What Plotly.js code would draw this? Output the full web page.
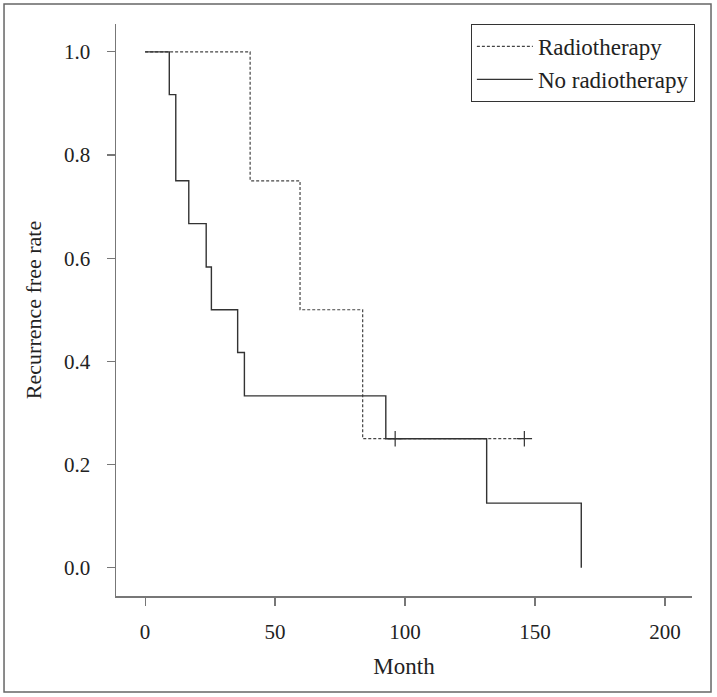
<!DOCTYPE html>
<html>
<head>
<meta charset="utf-8">
<script src="https://cdn.plot.ly/plotly-3.0.1.min.js"></script>
<style>
  html, body { margin: 0; padding: 0; background: #fff; }
  #chart { width: 717px; height: 697px; }
</style>
</head>
<body>
<div id="chart"></div>
<script>
// Kaplan-Meier step data
const rtTime = [0, 40.4, 59.6, 83.7, 145.9];
const rtSurv = [1.0, 0.75, 0.5, 0.25, 0.25];
const rtCensorTime = [145.9];
const rtCensorSurv = [0.25];

const noRtTime = [0, 9.3, 11.8, 16.8, 23.5, 25.5, 35.6, 38.2, 92.6, 131.4, 167.8];
const noRtSurv = [1.0, 0.917, 0.75, 0.667, 0.583, 0.5, 0.417, 0.333, 0.25, 0.125, 0.0];
const noRtCensorTime = [96.2];
const noRtCensorSurv = [0.25];

const seriesNames = ["Radiotherapy", "No radiotherapy"];
const xTicks = [0, 50, 100, 150, 200];
const yTicks = [0.0, 0.2, 0.4, 0.6, 0.8, 1.0];
const yTickText = ["0.0", "0.2", "0.4", "0.6", "0.8", "1.0"];

const FONT = "Liberation Serif";

const traces = [
  {
    x: rtTime, y: rtSurv, name: seriesNames[0], mode: "lines",
    line: { shape: "hv", color: "#444", width: 1.2, dash: "3px,2px" }
  },
  {
    x: noRtTime, y: noRtSurv, name: seriesNames[1], mode: "lines",
    line: { shape: "hv", color: "#333", width: 1.4 }
  },
  {
    x: rtCensorTime, y: rtCensorSurv, mode: "markers", showlegend: false,
    marker: { symbol: "cross-thin", size: 11, line: { color: "#333", width: 1.2 } }
  },
  {
    x: noRtCensorTime, y: noRtCensorSurv, mode: "markers", showlegend: false,
    marker: { symbol: "cross-thin", size: 11, line: { color: "#333", width: 1.2 } }
  }
];

const layout = {
  width: 717, height: 697,
  margin: { l: 116, r: 25, t: 24, b: 101 },
  paper_bgcolor: "#fff", plot_bgcolor: "#fff",
  font: { family: FONT, size: 21, color: "#222" },
  showlegend: true,
  xaxis: {
    range: [-11.2, 210.4],
    tickvals: xTicks,
    ticks: "outside", ticklen: 8, tickwidth: 1.2, tickcolor: "#777",
    showline: true, linecolor: "#777", linewidth: 1.5,
    showgrid: false, zeroline: false,
    tickfont: { family: FONT, size: 21, color: "#222" },
    ticklabelstandoff: 8,
    title: { text: "Month", font: { family: FONT, size: 23, color: "#222" }, standoff: 15 }
  },
  yaxis: {
    range: [-0.055, 1.054],
    tickvals: yTicks, ticktext: yTickText,
    ticks: "outside", ticklen: 8, tickwidth: 1.2, tickcolor: "#777",
    showline: true, linecolor: "#777", linewidth: 1.5,
    showgrid: false, zeroline: false,
    tickfont: { family: FONT, size: 21, color: "#222" },
    ticklabelstandoff: 12,
    title: { text: "Recurrence free rate", font: { family: FONT, size: 22, color: "#222" }, standoff: 16 }
  },
  legend: {
    x: 1.005, xanchor: "right", y: 1.0, yanchor: "top",
    bgcolor: "#fff", bordercolor: "#333", borderwidth: 1,
    font: { family: FONT, size: 23, color: "#222" },
    itemwidth: 56,
    tracegroupgap: 0
  },
  shapes: [
    {
      type: "rect", xref: "paper", yref: "paper",
      x0: -0.1944, x1: 1.033, y0: -0.1678, y1: 1.035,
      line: { color: "#666", width: 1.5 }, fillcolor: "rgba(0,0,0,0)", layer: "below"
    }
  ]
};

Plotly.newPlot("chart", traces, layout, { staticPlot: true, displayModeBar: false });
</script>
</body>
</html>
